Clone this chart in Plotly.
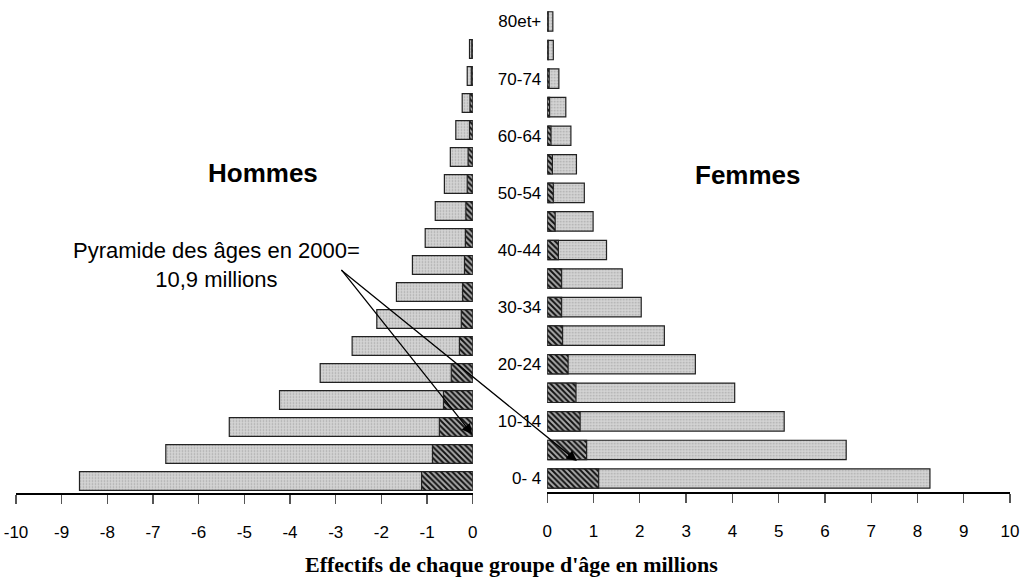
import plotly.graph_objects as go

# Age groups, bottom to top
age_groups = ["0-4", "5-9", "10-14", "15-19", "20-24", "25-29", "30-34", "35-39",
              "40-44", "45-49", "50-54", "55-59", "60-64", "65-69", "70-74", "75-79", "80+"]
age_tick_pos = [0, 2, 4, 6, 8, 10, 12, 14, 16]
age_tick_text = ["0- 4", "10-14", "20-24", "30-34", "40-44", "50-54", "60-64", "70-74", "80et+"]

# Effectifs (millions) - total bar length
hommes_total = [8.61, 6.72, 5.33, 4.23, 3.34, 2.64, 2.10, 1.67, 1.32, 1.04,
                0.82, 0.62, 0.49, 0.37, 0.23, 0.12, 0.07]
femmes_total = [8.27, 6.46, 5.12, 4.05, 3.20, 2.53, 2.03, 1.62, 1.28, 0.99,
                0.80, 0.63, 0.51, 0.40, 0.25, 0.13, 0.12]
# Pyramide des âges en 2000 (dark inner part)
hommes_2000 = [1.12, 0.88, 0.73, 0.64, 0.47, 0.29, 0.25, 0.22, 0.18, 0.16,
               0.15, 0.12, 0.10, 0.07, 0.06, 0.03, 0.02]
femmes_2000 = [1.11, 0.85, 0.71, 0.62, 0.45, 0.33, 0.31, 0.31, 0.24, 0.17,
               0.13, 0.11, 0.08, 0.05, 0.04, 0.02, 0.02]

x_ticks_left = [-10, -9, -8, -7, -6, -5, -4, -3, -2, -1, 0]
x_ticks_right = [0, 1, 2, 3, 4, 5, 6, 7, 8, 9, 10]

ypos = list(range(len(age_groups)))

W, H = 1023, 579


def fx(px):
    return min(1.0, max(0.0, px / W))


def fy(py):
    return min(1.0, max(0.0, 1 - py / H))


light = dict(color="#cdcdcd",
             line=dict(color="#222222", width=1.2),
             pattern=dict(shape=".", fgcolor="#a8a8a8", bgcolor="#d4d4d4",
                          size=3, solidity=0.25, fillmode="replace"))
dark = dict(color="#a0a0a0",
            line=dict(color="#222222", width=1.2),
            pattern=dict(shape="\\", fgcolor="#111111", bgcolor="#aaaaaa",
                         size=4, solidity=0.5, fillmode="replace"))

fig = go.Figure()
fig.add_trace(go.Bar(y=ypos, x=[-v for v in hommes_total], orientation="h",
                     marker=light, width=0.7, xaxis="x", yaxis="y", opacity=1))
fig.add_trace(go.Bar(y=ypos, x=[-v for v in hommes_2000], orientation="h",
                     marker=dark, width=0.7, xaxis="x", yaxis="y", opacity=1))
fig.add_trace(go.Bar(y=ypos, x=femmes_total, orientation="h",
                     marker=light, width=0.68, xaxis="x2", yaxis="y2", opacity=1))
fig.add_trace(go.Bar(y=ypos, x=femmes_2000, orientation="h",
                     marker=dark, width=0.68, xaxis="x2", yaxis="y2", opacity=1))

tickfont = dict(family="Liberation Sans, Arial, sans-serif", size=17, color="black")
xcommon = dict(showline=True, linecolor="black", linewidth=1.5, ticks="outside",
               ticklen=9, tickwidth=1.3, tickcolor="#555555", showgrid=False,
               zeroline=False, tickfont=tickfont, ticklabelstandoff=14,
               automargin=False, ticklabeloverflow="allow")

fig.update_layout(
    width=W, height=H,
    margin=dict(l=0, r=0, t=0, b=0, autoexpand=False),
    paper_bgcolor="white", plot_bgcolor="white",
    barmode="overlay", showlegend=False, hovermode=False,
    xaxis=dict(domain=[fx(16), fx(472.7)], range=[-10, 0], anchor="y",
               tickvals=x_ticks_left, ticktext=[str(v) for v in x_ticks_left], **xcommon),
    xaxis2=dict(domain=[fx(547.3), fx(1010)], range=[0, 10], anchor="y2",
                tickvals=x_ticks_right, ticktext=[str(v) for v in x_ticks_right], **xcommon),
    yaxis=dict(domain=[fy(493.3), fy(35.5)], range=[-0.455, 16.5], anchor="x",
               showticklabels=False, showgrid=False, zeroline=False, showline=False,
               ticks="", automargin=False),
    yaxis2=dict(domain=[fy(492.3), fy(7.2)], range=[-0.483, 16.5], anchor="x2",
                tickvals=age_tick_pos, ticktext=age_tick_text, tickfont=tickfont,
                showgrid=False, zeroline=False, showline=False, ticks="",
                ticklabelstandoff=5, automargin=False),
)

ann_font = dict(family="Liberation Sans, Arial, sans-serif", color="black")
fig.add_annotation(x=fx(263), y=fy(173), xref="paper", yref="paper",
                   text="<b>Hommes</b>", showarrow=False,
                   font=dict(size=26, **ann_font), xanchor="center", yanchor="middle")
fig.add_annotation(x=fx(748), y=fy(174.5), xref="paper", yref="paper",
                   text="<b>Femmes</b>", showarrow=False,
                   font=dict(size=26, **ann_font), xanchor="center", yanchor="middle")
fig.add_annotation(x=fx(216), y=fy(265), xref="paper", yref="paper",
                   text="Pyramide des âges en 2000=<br>10,9 millions", showarrow=False,
                   align="center", font=dict(size=22, **ann_font),
                   xanchor="center", yanchor="middle")
fig.add_annotation(x=fx(511), y=fy(564), xref="paper", yref="paper",
                   text="<b>Effectifs de chaque groupe d'âge en millions</b>", showarrow=False,
                   font=dict(family="Liberation Serif, Times New Roman, serif", size=22,
                             color="black"),
                   xanchor="center", yanchor="middle")
# Arrows pointing to the 2000 pyramid
fig.add_annotation(x=-0.01, y=1.73, xref="x", yref="y", text="", showarrow=True,
                   axref="pixel", ayref="pixel", ax=-132, ay=-166,
                   arrowhead=2, arrowsize=1.6, arrowwidth=1.3, arrowcolor="black",
                   standoff=0)
fig.add_annotation(x=0.64, y=0.61, xref="x2", yref="y2", text="", showarrow=True,
                   axref="pixel", ayref="pixel", ax=-237, ay=-192,
                   arrowhead=2, arrowsize=1.6, arrowwidth=1.3, arrowcolor="black",
                   standoff=0)

fig.write_html("out.html",
               config={"displayModeBar": False, "staticPlot": True},
               post_script="document.body.style.margin='0';"
                           "document.body.style.overflow='hidden';")
